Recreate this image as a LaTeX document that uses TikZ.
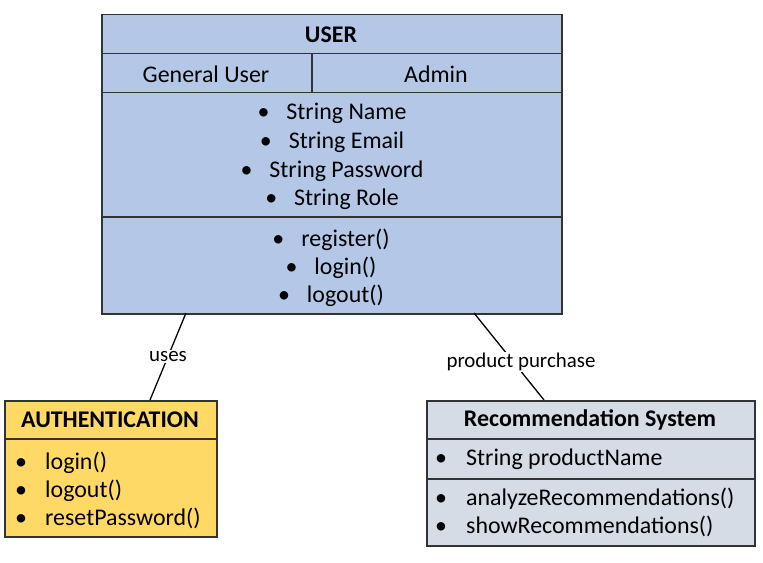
\documentclass[tikz,border=0pt]{standalone}
\usepackage{fontspec}
\setmainfont{Carlito}
\definecolor{userblue}{HTML}{B4C7E7}
\definecolor{authyellow}{HTML}{FFD966}
\definecolor{recgray}{HTML}{D6DCE5}
\definecolor{edge}{HTML}{333333}
\newcommand{\lbul}[1]{\makebox[#1][l]{\textbullet}}
\begin{document}
\begin{tikzpicture}[x=1bp,y=-1bp,
  cell/.style={draw=edge, line width=1.5bp, anchor=north west, inner sep=0pt},
  ucell/.style={cell, fill=userblue},
  acell/.style={cell, fill=authyellow},
  rcell/.style={cell, fill=recgray},
  txt/.style={font=\fontsize{24}{28}\selectfont, inner sep=0pt},
  ttl/.style={font=\fontsize{24}{28}\selectfont\bfseries, inner sep=0pt},
  lbl/.style={font=\fontsize{21}{24}\selectfont, fill=white, inner sep=1bp},
  conn/.style={draw=black, line width=1.3bp}]
\useasboundingbox (0,0) rectangle (763,563);
% USER
\node[ucell, minimum width=460bp, minimum height=39bp] (utitle) at (101,14) {};
\node[ucell, minimum width=210bp, minimum height=39bp] (ugen) at (101,53) {};
\node[ucell, minimum width=250bp, minimum height=39bp] (uadm) at (311,53) {};
\node[ucell, minimum width=460bp, minimum height=124bp] (uattr) at (101,92) {};
\node[ucell, minimum width=460bp, minimum height=97bp] (umeth) at (101,216) {};
\node[ttl] (tuser) at (331,35) {USER};
\node[txt] (tgen) at (206,74.5) {General User};
\node[txt] (tadm) at (436,74.5) {Admin};
\node[txt] (a1) at (332,113.5) {\textbullet\hspace{17bp}String Name};
\node[txt] (a2) at (332,142.5) {\textbullet\hspace{17bp}String Email};
\node[txt] (a3) at (332,171.5) {\textbullet\hspace{17bp}String Password};
\node[txt] (a4) at (332,199.5) {\textbullet\hspace{17bp}String Role};
\node[txt] (m1) at (331,239.5) {\textbullet\hspace{17bp}register()};
\node[txt] (m2) at (331,267.5) {\textbullet\hspace{17bp}login()};
\node[txt] (m3) at (331,295.5) {\textbullet\hspace{17bp}logout()};
% AUTHENTICATION
\node[acell, minimum width=212bp, minimum height=38bp] (atitle) at (4,400) {};
\node[acell, minimum width=212bp, minimum height=98bp] (ameth) at (4,438) {};
\node[ttl] (tauth) at (110,420) {AUTHENTICATION};
\node[txt, anchor=west] (b1) at (15,462.5) {\lbul{30bp}login()};
\node[txt, anchor=west] (b2) at (15,490.5) {\lbul{30bp}logout()};
\node[txt, anchor=west] (b3) at (15,518.5) {\lbul{30bp}resetPassword()};
% Recommendation
\node[rcell, minimum width=328bp, minimum height=38bp] (rtitle) at (426,400) {};
\node[rcell, minimum width=328bp, minimum height=40bp] (rattr) at (426,438) {};
\node[rcell, minimum width=328bp, minimum height=67bp] (rmeth) at (426,478) {};
\node[ttl] (trec) at (590,420) {Recommendation System};
\node[txt, anchor=west] (r1) at (435,459.5) {\lbul{31bp}String productName};
\node[txt, anchor=west] (r2) at (435,498.5) {\lbul{31bp}analyzeRecommendations()};
\node[txt, anchor=west] (r3) at (435,526.5) {\lbul{31bp}showRecommendations()};
% connectors
\coordinate (c1) at (186,313);
\coordinate (c2) at (150,400);
\coordinate (c3) at (474,313);
\coordinate (c4) at (544,400);
\draw[conn] (c1) -- node[lbl] (luses) {uses} (c2);
\draw[conn] (c3) -- (c4);
\node[lbl] (lpp) at (521,362) {product purchase};
\end{tikzpicture}
\end{document}
